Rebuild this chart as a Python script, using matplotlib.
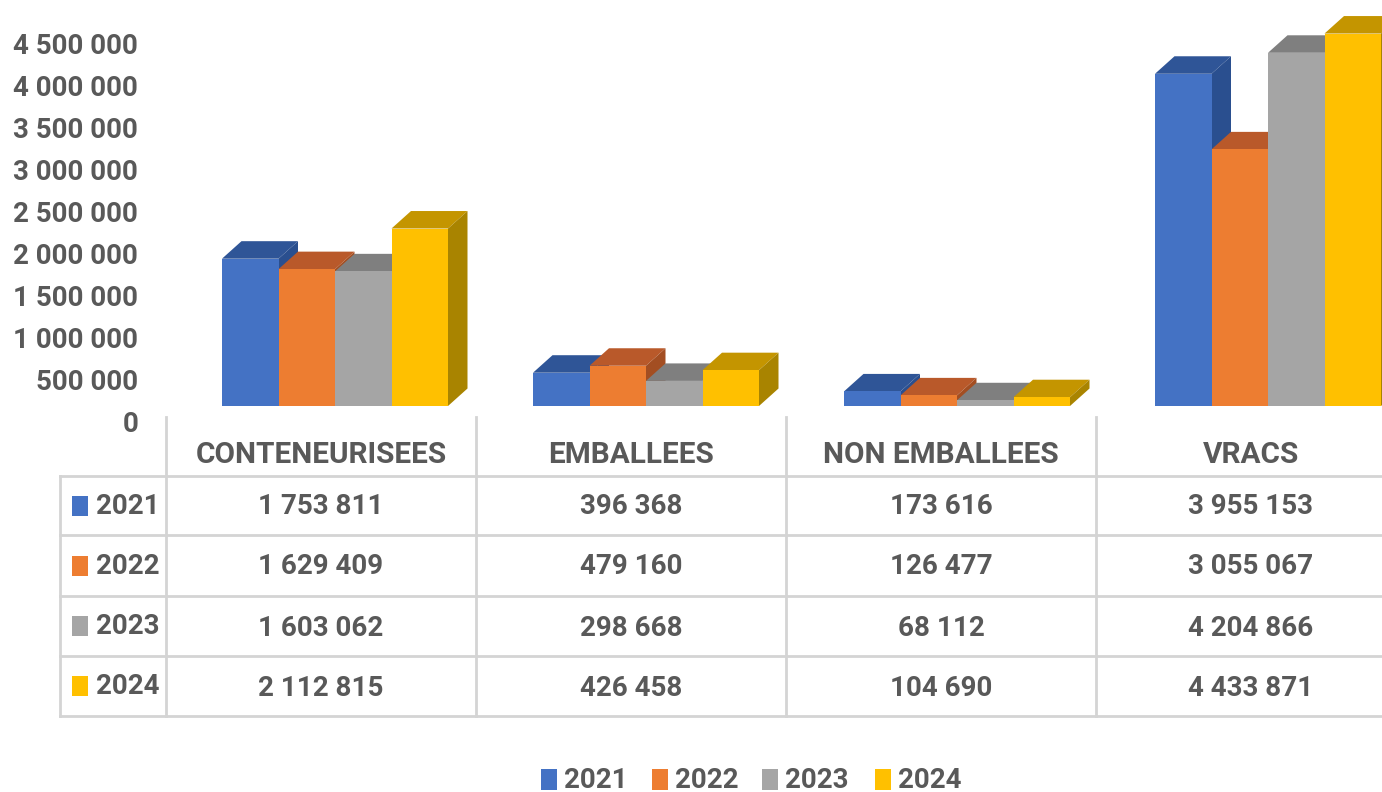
import matplotlib
matplotlib.use("Agg")
import matplotlib.pyplot as plt
from matplotlib.patches import Polygon, Rectangle

categories = ["CONTENEURISEES", "EMBALLEES", "NON EMBALLEES", "VRACS"]
years = ["2021", "2022", "2023", "2024"]
v2021 = [1753811, 396368, 173616, 3955153]
v2022 = [1629409, 479160, 126477, 3055067]
v2023 = [1603062, 298668, 68112, 4204866]
v2024 = [2112815, 426458, 104690, 4433871]
series = [v2021, v2022, v2023, v2024]
tick_values = [0, 500000, 1000000, 1500000, 2000000, 2500000, 3000000, 3500000, 4000000, 4500000]
front_colors = ["#4472C4", "#ED7D31", "#A5A5A5", "#FFC000"]
top_colors = ["#2F5597", "#B9592A", "#7F7F7F", "#C49500"]
side_colors = ["#2A4F8F", "#A34E22", "#6F6F6F", "#A98400"]

W, H = 1382, 792
TEXT = "#595959"
GRID = "#D4D4D4"
FONT = "Roboto"
per_px = 500000 / 42.0
cell_w = 311.0


def fmt(v):
    return f"{v:,}".replace(",", " ")


fig = plt.figure(figsize=(W / 100, H / 100), dpi=100)

# bars: x in category units, 0 is the left edge of the first table column
ax = fig.add_axes((166 / W, (H - 406) / H, (W - 166) / W, 406 / H))
ax.set_xlim(0, (W - 166) / cell_w)
ax.set_ylim(0, 406 * per_px)
ax.axis("off")

bar_w = 56.5 / cell_w
dx = 19.5 / cell_w
dy = 17.5 * per_px
group_start = 56 / cell_w
for i, vals in enumerate(series):
    for c, v in enumerate(vals):
        x0 = c + group_start + i * bar_w
        x1 = x0 + bar_w
        ax.add_patch(Polygon([(x0, v), (x1, v), (x1 + dx, v + dy), (x0 + dx, v + dy)],
                             fc=top_colors[i], ec="none", clip_on=False))
        ax.add_patch(Polygon([(x1, 0), (x1 + dx, dy), (x1 + dx, v + dy), (x1, v)],
                             fc=side_colors[i], ec="none", clip_on=False))
        ax.bar(x0, v, width=bar_w, align="edge", color=front_colors[i], clip_on=False)

# value axis sits lower than the bar floor
ax_t = fig.add_axes((166 / W, (H - 421) / H, 0.01, 421 / H))
ax_t.set_ylim(0, 421 * per_px)
ax_t.set_xticks([])
ax_t.set_yticks(tick_values, [fmt(t) for t in tick_values])
ax_t.tick_params(axis="y", length=0, pad=20, labelcolor=TEXT, labelsize=20)
for lab in ax_t.get_yticklabels():
    lab.set_family(FONT)
    lab.set_fontweight("bold")
ax_t.patch.set_visible(False)
for s in ax_t.spines.values():
    s.set_visible(False)

# table and legend drawn in pixel coordinates
ov = fig.add_axes((0, 0, 1, 1))
ov.set_xlim(0, W)
ov.set_ylim(H, 0)
ov.axis("off")
ov.patch.set_visible(False)

col_x = [166, 476, 786, 1096]
row_y = [476, 535, 596, 656, 716]
for y in row_y:
    ov.plot([60, W], [y, y], color=GRID, lw=2)
ov.plot([60, 60], [476, 716], color=GRID, lw=2)
for x in col_x:
    ov.plot([x, x], [417, 716], color=GRID, lw=2)

txt = dict(color=TEXT, fontsize=20, fontweight="bold", family=FONT, ha="center", va="center")
for c, name in enumerate(categories):
    ov.text(col_x[c] + 155, 455, name, **{**txt, "fontsize": 21.4})
row_text_y = [507, 567, 628, 688]
row_label_y = [506, 566, 626, 686]
for i, vals in enumerate(series):
    ov.add_patch(Rectangle((72, row_label_y[i] - 10), 16, 20, fc=front_colors[i], ec="none"))
    ov.text(96, row_label_y[i], years[i], **{**txt, "ha": "left"})
    for c, v in enumerate(vals):
        ov.text(col_x[c] + 155, row_text_y[i], fmt(v), **txt)

legend_x = [541, 652, 762, 875]
for i, y in enumerate(years):
    ov.add_patch(Rectangle((legend_x[i], 769), 16, 21, fc=front_colors[i], ec="none"))
    ov.text(legend_x[i] + 23, 780, y, **{**txt, "ha": "left"})

fig.savefig("out.png", dpi=100)
